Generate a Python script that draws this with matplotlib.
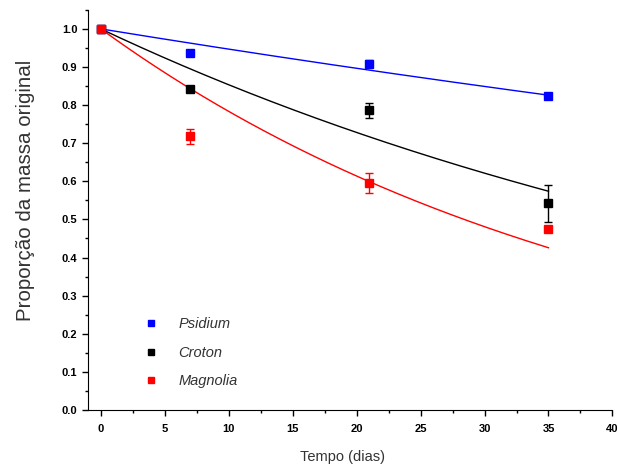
import numpy as np
import matplotlib
matplotlib.use("Agg")
import matplotlib.pyplot as plt
from matplotlib.ticker import MultipleLocator

plt.rcParams['font.family'] = ['Liberation Sans', 'DejaVu Sans']

# Data
days = [0, 7, 21, 35]
species = ["Psidium", "Croton", "Magnolia"]
colors = ["#0000ff", "#000000", "#ff0000"]
psidium = [1.0, 0.936, 0.909, 0.823]
psidium_err = [0.0, 0.0, 0.01, 0.0]
croton = [1.0, 0.843, 0.786, 0.542]
croton_err = [0.0, 0.0, 0.02, 0.048]
magnolia = [1.0, 0.718, 0.596, 0.474]
magnolia_err = [0.0, 0.019, 0.026, 0.0]
# exponential decay fit rates
decay_k = [0.00546, 0.01586, 0.0244]
x_ticks = [0, 5, 10, 15, 20, 25, 30, 35, 40]
y_ticks = [0.0, 0.1, 0.2, 0.3, 0.4, 0.5, 0.6, 0.7, 0.8, 0.9, 1.0]

values = [psidium, croton, magnolia]
errors = [psidium_err, croton_err, magnolia_err]

fig = plt.figure(figsize=(6.18, 4.68), dpi=100)
ax = fig.add_axes([0.142, 0.124, 0.849, 0.855])

t = np.linspace(0, 35, 200)
handles = []
for name, col, v, e, k in zip(species, colors, values, errors, decay_k):
    ax.plot(t, np.exp(-k * t), color=col, lw=1.0, zorder=2)
    ax.errorbar(days, v, yerr=e, fmt='none', ecolor=col, elinewidth=1.0,
                capsize=3, capthick=1.0, zorder=3)
    h, = ax.plot(days, v, ls='none', marker='s', ms=6, color=col,
                 mec=col, zorder=4, label=name)
    handles.append(h)

ax.set_xlim(-1.02, 40)
ax.set_ylim(0, 1.05)
ax.spines['top'].set_visible(False)
ax.spines['right'].set_visible(False)
ax.set_xticks(x_ticks)
ax.set_xticklabels([str(x) for x in x_ticks], fontweight='bold')
ax.set_yticks(y_ticks)
ax.set_yticklabels([f"{y:.1f}" for y in y_ticks], fontweight='bold')
ax.xaxis.set_minor_locator(MultipleLocator(2.5))
ax.yaxis.set_minor_locator(MultipleLocator(0.05))
ax.tick_params(which='major', direction='out', length=4, width=1, labelsize=8)
ax.tick_params(axis='x', which='major', pad=6)
ax.tick_params(which='minor', direction='out', length=2.5, width=1)

ax.set_xlabel("Tempo (dias)", fontsize=10.5, color='#333333')
ax.xaxis.set_label_coords(0.485, -0.100)
ax.set_ylabel("Proporção da massa original", fontsize=14.8, color='#333333')
ax.yaxis.set_label_coords(-0.101, 0.55)

leg = ax.legend(handles=handles, loc='upper left', bbox_to_anchor=(0.067, 0.265),
                frameon=False, markerscale=0.75, handletextpad=0.9,
                labelspacing=1.0, prop={'style': 'italic', 'size': 10.5})
for txt in leg.get_texts():
    txt.set_color('#333333')

fig.savefig("out.png", dpi=100)
